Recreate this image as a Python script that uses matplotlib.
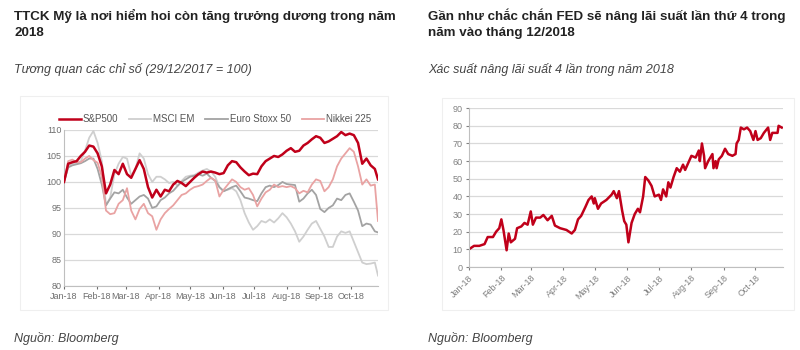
import matplotlib
matplotlib.use("Agg")
import matplotlib.pyplot as plt
import matplotlib.dates as mdates
from matplotlib.patches import Rectangle
import numpy as np

plt.rcParams['font.family'] = ['Liberation Sans', 'DejaVu Sans']

# ---- left chart data: index levels, 29/12/2017 = 100 (days since 1 Jan 2018)
idx_days = [0, 4, 8, 12, 16, 20, 24, 28, 32, 36, 40, 44, 48, 52, 56, 60, 64, 68,
            72, 76, 80, 84, 88, 92, 96, 100, 104, 108, 112, 116, 120, 124, 128,
            132, 136, 140, 144, 148, 152, 156, 160, 164, 168, 172, 176, 180, 184,
            188, 192, 196, 200, 204, 208, 212, 216, 220, 224, 228, 232, 236, 240,
            244, 248, 252, 256, 260, 264, 268, 272, 276, 280, 284, 288, 292, 296,
            299]
sp500 = [100, 103.5, 103.8, 104, 105, 105.8, 107, 106.8, 105.5, 103, 97.8, 99.5,
         102.3, 101.5, 103.5, 101.5, 100.8, 102.5, 104.2, 102.5, 99, 97, 98.5,
         97.2, 98.5, 98.2, 99.5, 100.2, 99.8, 99.2, 100, 100.8, 101.5, 102, 101.8,
         102, 101.8, 101.5, 101.7, 103.2, 104, 103.8, 102.8, 102, 101.3, 101.6,
         101.5, 103, 104, 104.5, 105, 104.8, 105.3, 106, 106.5, 105.8, 106, 107,
         107.5, 108.2, 108.8, 108.5, 107.5, 107.8, 108.3, 108.8, 109.6, 109,
         109.3, 109, 107.5, 103.5, 104.5, 103.2, 102.5, 100.5]
msci_em = [100, 103, 103.5, 103.5, 104, 106, 108.5, 109.8, 107.5, 104, 95.5, 97,
           101.5, 103.5, 104.8, 104.5, 101.2, 102.5, 105.5, 104.5, 101.5, 100, 101,
           101, 100.5, 99.8, 100, 99.3, 100.2, 101, 101.2, 101.3, 101.8, 102.2,
           102.5, 102, 101, 99, 98.3, 98.5, 98.8, 98.2, 96.5, 94, 92.2, 90.8, 91.5,
           92.5, 92.2, 92.8, 92.2, 93, 94, 93.2, 92, 90.5, 88.5, 89.5, 90.8, 92,
           92.5, 91, 89.5, 87.5, 87.5, 89.5, 90.5, 90.2, 90.5, 88.5, 86.5, 84.5,
           84.2, 84.3, 84.5, 82]
euro_stoxx = [100, 102.8, 103.2, 103.4, 103.6, 104, 104.5, 104.5, 102.5, 99.5,
              95.5, 96.8, 98, 97.8, 98.5, 97, 95.8, 96.5, 97.2, 97.5, 96.8, 95,
              95.3, 96.5, 97, 97.8, 98.3, 99.2, 100, 100.5, 101, 101.2, 101.5,
              101.2, 101.6, 100.8, 100.2, 99, 98.2, 98.6, 99, 99.3, 98.2, 97, 96.8,
              96.5, 96.3, 97.8, 99, 99.3, 99, 99.4, 100, 99.6, 99.5, 99.4, 96.2,
              96.8, 97.8, 98.5, 97.5, 94.8, 94.2, 95, 95.5, 96.8, 96.5, 97.5, 97.8,
              96.2, 94.5, 91.5, 92, 91.8, 90.5, 90.3]
nikkei = [100, 104, 104.3, 103.8, 103.8, 104.5, 105, 104.2, 103.7, 101, 94.5,
          93.8, 94, 95.8, 96.5, 98.8, 94.5, 92.8, 94.8, 95.8, 94, 93.4, 90.8, 92.8,
          94, 94.8, 95.5, 96.5, 97.5, 97.8, 98.5, 99, 99.2, 99.5, 100.2, 100.8,
          100.3, 97.2, 98.5, 99.5, 100.5, 100, 99, 98.5, 98.8, 97.5, 95.3, 96.8, 98,
          98.5, 99.5, 99, 99.2, 99, 99.2, 98.8, 97.8, 98.3, 98, 99.5, 100.5, 100.2,
          98.2, 99, 100.5, 103, 104.5, 105.5, 106.5, 105.8, 103, 99.5, 100.5, 99.3,
          99.5, 92.5]
idx_names = ['S&P500', 'MSCI EM', 'Euro Stoxx 50', 'Nikkei 225']

# ---- right chart data: probability of 4 hikes in 2018 (%)
prob_days = [0, 5, 10, 15, 18, 23, 26, 29, 31, 33, 36, 38, 40, 44, 46, 50, 53, 56,
             59, 61, 64, 68, 71, 75, 79, 82, 87, 93, 98, 101, 104, 107, 111, 114,
             117, 119, 120, 123, 126, 131, 136, 138, 141, 143, 146, 148, 150, 152,
             155, 158, 161, 163, 166, 168, 171, 174, 177, 181, 183, 185, 188, 190,
             192, 195, 198, 201, 204, 206, 209, 212, 216, 219, 220, 222, 224, 225,
             228, 232, 233, 235, 236, 238, 241, 244, 247, 251, 254, 255, 257, 259,
             262, 265, 268, 271, 273, 275, 278, 281, 285, 287, 289, 294, 295, 298]
prob_4hikes = [10, 12, 12, 13, 17, 17, 20, 22, 27, 21, 9.5, 19, 14, 16, 22, 23, 25,
               24, 31.5, 24, 28, 28, 29.5, 26.5, 29, 23.5, 22, 21, 19, 21, 27, 29,
               34, 38, 40, 36, 39, 33, 36, 38, 41, 43, 39, 43, 32, 26, 24, 14, 25, 30,
               33, 31, 40, 51, 49, 46, 40, 41, 38, 44, 40, 48, 45, 51, 56, 54, 58, 55,
               59, 63, 62, 66, 60, 70, 63, 56, 60, 64, 56, 60, 56, 61, 63, 67, 64, 63,
               64, 70, 72, 79, 78, 79, 77, 72, 77, 72, 73, 76, 79, 72, 76, 76, 80, 79]

start = np.datetime64('2018-01-01')
month_ticks = np.arange(np.datetime64('2018-01'), np.datetime64('2018-11'),
                        dtype='datetime64[M]').astype('datetime64[D]')
x_end = start + np.timedelta64(299, 'D')

RED = '#c0001a'
TICK_GREY = '#6e6e6e'
GRID_GREY = '#d9d9d9'

fig = plt.figure(figsize=(8, 3.5), dpi=100)

# faint frames of the two chart images
fig.patches.append(Rectangle((0.025, 0.115), 0.46, 0.61, transform=fig.transFigure,
                             fill=False, edgecolor='#efefef', lw=0.8))
fig.patches.append(Rectangle((0.553, 0.115), 0.44, 0.605, transform=fig.transFigure,
                             fill=False, edgecolor='#efefef', lw=0.8))

# ---- texts
fig.text(0.0175, 0.975, 'TTCK Mỹ là nơi hiểm hoi còn tăng trưởng dương trong năm\n2018',
         fontsize=9.6, fontweight='bold', color='#222222', va='top', linespacing=1.45)
fig.text(0.0175, 0.80, 'Tương quan các chỉ số (29/12/2017 = 100)', fontsize=9,
         style='italic', color='#444444', va='center')
fig.text(0.535, 0.975, 'Gần như chắc chắn FED sẽ nâng lãi suất lần thứ 4 trong\nnăm vào tháng 12/2018',
         fontsize=9.6, fontweight='bold', color='#222222', va='top', linespacing=1.45)
fig.text(0.535, 0.80, 'Xác suất nâng lãi suất 4 lần trong năm 2018', fontsize=9,
         style='italic', color='#444444', va='center')
fig.text(0.0175, 0.033, 'Nguồn: Bloomberg', fontsize=9, style='italic',
         color='#444444', va='center')
fig.text(0.535, 0.033, 'Nguồn: Bloomberg', fontsize=9, style='italic',
         color='#444444', va='center')

# ---- left chart
ax1 = fig.add_axes([0.08, 0.183, 0.3925, 0.4457])
d1 = start + np.array(idx_days).astype('timedelta64[D]')
ax1.plot(d1, msci_em, color='#cfcfcf', lw=1.3, label=idx_names[1], zorder=2)
ax1.plot(d1, euro_stoxx, color='#a3a3a3', lw=1.3, label=idx_names[2], zorder=3)
ax1.plot(d1, nikkei, color='#e9a3a3', lw=1.3, label=idx_names[3], zorder=4)
ax1.plot(d1, sp500, color=RED, lw=1.8, label=idx_names[0], zorder=5)
ax1.set_ylim(80, 110)
ax1.set_yticks(np.arange(80, 111, 5))
ax1.set_xlim(start, x_end)
ax1.set_xticks(month_ticks)
ax1.xaxis.set_major_formatter(mdates.DateFormatter('%b-%y'))
ax1.grid(axis='y', color=GRID_GREY, lw=0.9)
ax1.set_axisbelow(True)
for s in ['top', 'right']:
    ax1.spines[s].set_visible(False)
for s in ['left', 'bottom']:
    ax1.spines[s].set_color('#bfbfbf')
ax1.tick_params(axis='both', labelsize=6.5, colors=TICK_GREY, length=2.5, pad=2)
ax1.tick_params(axis='y', length=0)
handles, labels = ax1.get_legend_handles_labels()
order = [3, 0, 1, 2]
ax1.legend([handles[i] for i in order], [labels[i] for i in order],
           loc='lower center', bbox_to_anchor=(0.48, 1.0), ncol=4, frameon=False,
           fontsize=7, handlelength=2.3, handletextpad=0.2, columnspacing=1.1,
           labelcolor='#555555', borderaxespad=0.2)

# ---- right chart
ax2 = fig.add_axes([0.586, 0.237, 0.3925, 0.454])
d2 = start + np.array(prob_days).astype('timedelta64[D]')
ax2.plot(d2, prob_4hikes, color=RED, lw=1.8)
ax2.set_ylim(0, 90)
ax2.set_yticks(np.arange(0, 91, 10))
ax2.set_xlim(start, x_end)
ax2.set_xticks(month_ticks)
ax2.xaxis.set_major_formatter(mdates.DateFormatter('%b-%y'))
ax2.grid(axis='y', color=GRID_GREY, lw=0.9)
ax2.set_axisbelow(True)
for s in ['top', 'right']:
    ax2.spines[s].set_visible(False)
for s in ['left', 'bottom']:
    ax2.spines[s].set_color('#bfbfbf')
ax2.tick_params(axis='both', labelsize=6.5, colors='#808080', length=2.5, pad=2)
plt.setp(ax2.get_xticklabels(), rotation=45, ha='right', rotation_mode='anchor')

fig.savefig('out.png', dpi=100)
